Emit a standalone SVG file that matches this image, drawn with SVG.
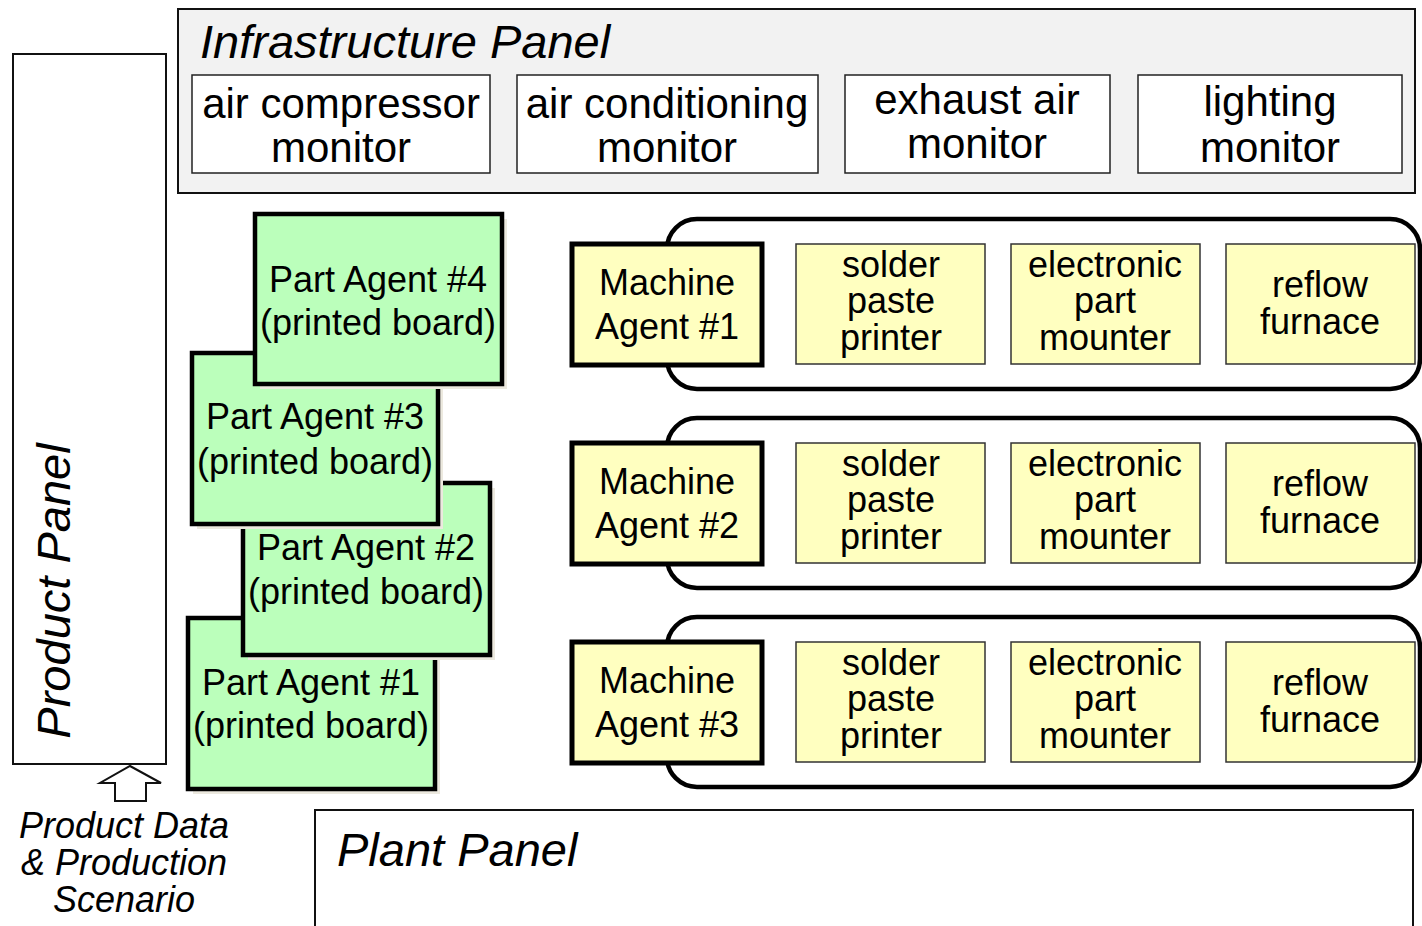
<svg xmlns="http://www.w3.org/2000/svg" width="1422" height="926" viewBox="0 0 1422 926">
<style>
text{font-family:"Liberation Sans",Arial,sans-serif;fill:#000;text-anchor:middle}
.it{font-style:italic}
.panel{fill:#fff;stroke:#111;stroke-width:2}
.infra{fill:#f2f2f2;stroke:#111;stroke-width:2}
.mon{fill:#fff;stroke:#222;stroke-width:1.5}
.part{fill:#bbffbb;stroke:#000;stroke-width:4.5}
.shadow{fill:#ece9df}
.cont{fill:#fff;stroke:#000;stroke-width:4.5}
.ma{fill:#ffffc0;stroke:#000;stroke-width:5}
.eq{fill:#ffffc0;stroke:#333;stroke-width:1.5}
.f42{font-size:42px}
.f36{font-size:36px}
.f46{font-size:47px}
</style>
<g id="product-panel">
<rect class="panel" x="13" y="54" width="153" height="710"/>
<text class="it f46" transform="translate(70,591) rotate(-90)">Product Panel</text>
</g>
<g id="infrastructure-panel">
<rect class="infra" x="178" y="9" width="1237" height="184"/>
<text class="it f46" x="200" y="58" style="text-anchor:start">Infrastructure Panel</text>
</g>
<g id="air-compressor-monitor">
<rect class="mon" x="192" y="75" width="298" height="98"/>
<text class="f42" x="341" y="118">air compressor</text>
<text class="f42" x="341" y="162">monitor</text>
</g>
<g id="air-conditioning-monitor">
<rect class="mon" x="517" y="75" width="301" height="98"/>
<text class="f42" x="667" y="118">air conditioning</text>
<text class="f42" x="667" y="162">monitor</text>
</g>
<g id="exhaust-air-monitor">
<rect class="mon" x="845" y="75" width="265" height="98"/>
<text class="f42" x="977" y="114">exhaust air</text>
<text class="f42" x="977" y="158">monitor</text>
</g>
<g id="lighting-monitor">
<rect class="mon" x="1138" y="75" width="264" height="98"/>
<text class="f42" x="1270" y="116">lighting</text>
<text class="f42" x="1270" y="162">monitor</text>
</g>
<g id="plant-panel">
<rect class="panel" x="315" y="810" width="1098" height="140"/>
<text class="it f46" x="337" y="866" style="text-anchor:start">Plant Panel</text>
</g>
<g id="product-data">
<path d="M130,766 L161,783 L146,783 L146,801 L115,801 L115,783 L100,783 Z" fill="#fff" stroke="#111" stroke-width="2"/>
<text class="it f36" x="124" y="838">Product Data</text>
<text class="it f36" x="124" y="875">&amp; Production</text>
<text class="it f36" x="124" y="912">Scenario</text>
</g>
<g id="part-agent-1">
<rect class="shadow" x="193" y="623" width="247" height="171"/>
<rect class="part" x="188" y="618" width="247" height="171"/>
<text class="f36" x="311" y="695">Part Agent #1</text>
<text class="f36" x="311" y="738">(printed board)</text>
</g>
<g id="part-agent-2">
<rect class="shadow" x="248" y="488" width="247" height="172"/>
<rect class="part" x="243" y="483" width="247" height="172"/>
<text class="f36" x="366" y="560">Part Agent #2</text>
<text class="f36" x="366" y="604">(printed board)</text>
</g>
<g id="part-agent-3">
<rect class="shadow" x="197" y="358" width="246" height="171"/>
<rect class="part" x="192" y="353" width="246" height="171"/>
<text class="f36" x="315" y="429">Part Agent #3</text>
<text class="f36" x="315" y="474">(printed board)</text>
</g>
<g id="part-agent-4">
<rect class="shadow" x="260" y="219" width="247" height="170"/>
<rect class="part" x="255" y="214" width="247" height="170"/>
<text class="f36" x="378" y="292">Part Agent #4</text>
<text class="f36" x="378" y="335">(printed board)</text>
</g>
<g id="machine-row-1">
<rect class="cont" x="667" y="219" width="753" height="170" rx="30"/>
<rect class="ma" x="572" y="244" width="190" height="121"/>
<text class="f36" x="667" y="295">Machine</text>
<text class="f36" x="667" y="339">Agent #1</text>
<rect class="eq" x="796" y="244" width="189" height="120"/>
<text class="f36" x="891" y="277">solder</text>
<text class="f36" x="891" y="313">paste</text>
<text class="f36" x="891" y="350">printer</text>
<rect class="eq" x="1011" y="244" width="189" height="120"/>
<text class="f36" x="1105" y="277">electronic</text>
<text class="f36" x="1105" y="313">part</text>
<text class="f36" x="1105" y="350">mounter</text>
<rect class="eq" x="1226" y="244" width="189" height="120"/>
<text class="f36" x="1320" y="297">reflow</text>
<text class="f36" x="1320" y="334">furnace</text>
</g>
<g id="machine-row-2" transform="translate(0,199)">
<rect class="cont" x="667" y="219" width="753" height="170" rx="30"/>
<rect class="ma" x="572" y="244" width="190" height="121"/>
<text class="f36" x="667" y="295">Machine</text>
<text class="f36" x="667" y="339">Agent #2</text>
<rect class="eq" x="796" y="244" width="189" height="120"/>
<text class="f36" x="891" y="277">solder</text>
<text class="f36" x="891" y="313">paste</text>
<text class="f36" x="891" y="350">printer</text>
<rect class="eq" x="1011" y="244" width="189" height="120"/>
<text class="f36" x="1105" y="277">electronic</text>
<text class="f36" x="1105" y="313">part</text>
<text class="f36" x="1105" y="350">mounter</text>
<rect class="eq" x="1226" y="244" width="189" height="120"/>
<text class="f36" x="1320" y="297">reflow</text>
<text class="f36" x="1320" y="334">furnace</text>
</g>
<g id="machine-row-3" transform="translate(0,398)">
<rect class="cont" x="667" y="219" width="753" height="170" rx="30"/>
<rect class="ma" x="572" y="244" width="190" height="121"/>
<text class="f36" x="667" y="295">Machine</text>
<text class="f36" x="667" y="339">Agent #3</text>
<rect class="eq" x="796" y="244" width="189" height="120"/>
<text class="f36" x="891" y="277">solder</text>
<text class="f36" x="891" y="313">paste</text>
<text class="f36" x="891" y="350">printer</text>
<rect class="eq" x="1011" y="244" width="189" height="120"/>
<text class="f36" x="1105" y="277">electronic</text>
<text class="f36" x="1105" y="313">part</text>
<text class="f36" x="1105" y="350">mounter</text>
<rect class="eq" x="1226" y="244" width="189" height="120"/>
<text class="f36" x="1320" y="297">reflow</text>
<text class="f36" x="1320" y="334">furnace</text>
</g>
<g id="connectors"/>
</svg>
